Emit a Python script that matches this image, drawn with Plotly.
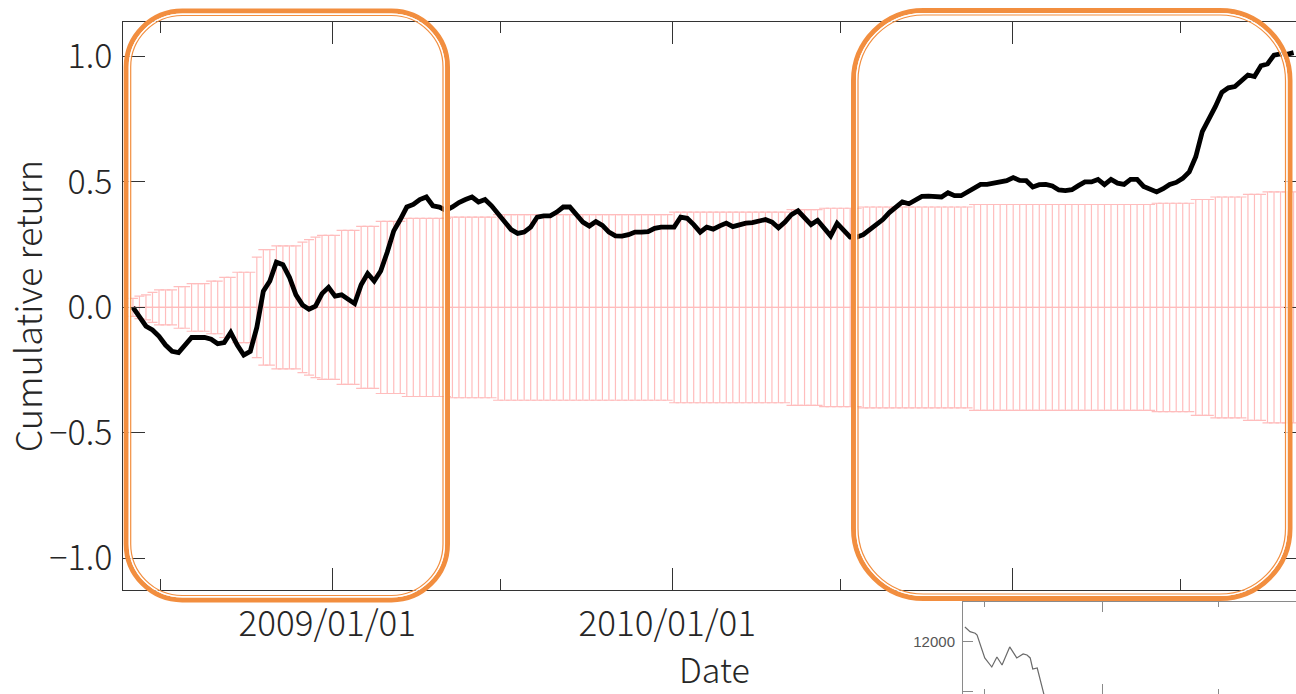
import plotly.graph_objects as go
import pandas as pd

# ---------------- data ----------------
week_start = "2008-06-01"
n_weeks = 179
week_dates = pd.date_range(week_start, periods=n_weeks, freq="7D")

cum_return = [
    0.00, -0.037, -0.075, -0.09, -0.115, -0.15, -0.175, -0.18, -0.15, -0.12,
    -0.12, -0.12, -0.127, -0.145, -0.14, -0.10, -0.15, -0.19, -0.175, -0.08,
    0.065, 0.105, 0.18, 0.17, 0.12, 0.05, 0.01, -0.007, 0.005, 0.055,
    0.08, 0.045, 0.05, 0.03, 0.015, 0.09, 0.135, 0.105, 0.145, 0.22,
    0.305, 0.35, 0.40, 0.41, 0.43, 0.44, 0.405, 0.40, 0.387, 0.40,
    0.418, 0.43, 0.44, 0.42, 0.43, 0.405, 0.375, 0.34, 0.31, 0.295,
    0.30, 0.32, 0.36, 0.365, 0.365, 0.38, 0.40, 0.40, 0.368, 0.34,
    0.324, 0.342, 0.327, 0.30, 0.285, 0.284, 0.29, 0.30, 0.30, 0.302,
    0.315, 0.32, 0.32, 0.32, 0.36, 0.355, 0.33, 0.30, 0.32, 0.312,
    0.325, 0.336, 0.322, 0.33, 0.336, 0.338, 0.342, 0.35, 0.34, 0.317,
    0.34, 0.37, 0.385, 0.36, 0.33, 0.347, 0.315, 0.285, 0.335, 0.31,
    0.28, 0.28, 0.29, 0.31, 0.33, 0.35, 0.378, 0.40, 0.42, 0.413,
    0.425, 0.442, 0.443, 0.44, 0.44, 0.457, 0.445, 0.445, 0.46, 0.48,
    0.49, 0.49, 0.496, 0.50, 0.505, 0.517, 0.506, 0.505, 0.48, 0.489,
    0.49, 0.484, 0.468, 0.465, 0.469, 0.485, 0.50, 0.50, 0.51, 0.489,
    0.51, 0.495, 0.49, 0.51, 0.51, 0.482, 0.47, 0.46, 0.473, 0.49,
    0.498, 0.514, 0.54, 0.60, 0.70, 0.747, 0.80, 0.857, 0.875, 0.88,
    0.902, 0.926, 0.92, 0.963, 0.97, 1.005, 1.01, 1.008, 1.015,
]

# centre of the confidence band (zero return) and its half width
ci_center = [
    0.0, 0.0, 0.0, 0.0, 0.0, 0.0, 0.0, 0.0, 0.0, 0.0,
    0.0, 0.0, 0.0, 0.0, 0.0, 0.0, 0.0, 0.0, 0.0, 0.0,
    0.0, 0.0, 0.0, 0.0, 0.0, 0.0, 0.0, 0.0, 0.0, 0.0,
    0.0, 0.0, 0.0, 0.0, 0.0, 0.0, 0.0, 0.0, 0.0, 0.0,
    0.0, 0.0, 0.0, 0.0, 0.0, 0.0, 0.0, 0.0, 0.0, 0.0,
    0.0, 0.0, 0.0, 0.0, 0.0, 0.0, 0.0, 0.0, 0.0, 0.0,
    0.0, 0.0, 0.0, 0.0, 0.0, 0.0, 0.0, 0.0, 0.0, 0.0,
    0.0, 0.0, 0.0, 0.0, 0.0, 0.0, 0.0, 0.0, 0.0, 0.0,
    0.0, 0.0, 0.0, 0.0, 0.0, 0.0, 0.0, 0.0, 0.0, 0.0,
    0.0, 0.0, 0.0, 0.0, 0.0, 0.0, 0.0, 0.0, 0.0, 0.0,
    0.0, 0.0, 0.0, 0.0, 0.0, 0.0, 0.0, 0.0, 0.0, 0.0,
    0.0, 0.0, 0.0, 0.0, 0.0, 0.0, 0.0, 0.0, 0.0, 0.0,
    0.0, 0.0, 0.0, 0.0, 0.0, 0.0, 0.0, 0.0, 0.0, 0.0,
    0.0, 0.0, 0.0, 0.0, 0.0, 0.0, 0.0, 0.0, 0.0, 0.0,
    0.0, 0.0, 0.0, 0.0, 0.0, 0.0, 0.0, 0.0, 0.0, 0.0,
    0.0, 0.0, 0.0, 0.0, 0.0, 0.0, 0.0, 0.0, 0.0, 0.0,
    0.0, 0.0, 0.0, 0.0, 0.0, 0.0, 0.0, 0.0, 0.0, 0.0,
    0.0, 0.0, 0.0, 0.0, 0.0, 0.0, 0.0, 0.0, 0.0,
]

ci_halfwidth = [
    0.036, 0.045, 0.05, 0.06, 0.07, 0.07, 0.07, 0.083, 0.083, 0.095,
    0.095, 0.095, 0.105, 0.105, 0.12, 0.12, 0.14, 0.14, 0.14, 0.20,
    0.23, 0.23, 0.245, 0.245, 0.245, 0.245, 0.26, 0.27, 0.28, 0.287,
    0.287, 0.287, 0.307, 0.307, 0.307, 0.323, 0.323, 0.323, 0.343, 0.343,
    0.343, 0.343, 0.355, 0.355, 0.355, 0.355, 0.355, 0.355, 0.355, 0.36,
    0.36, 0.36, 0.36, 0.36, 0.36, 0.36, 0.37, 0.37, 0.37, 0.37,
    0.37, 0.37, 0.37, 0.37, 0.37, 0.37, 0.37, 0.37, 0.37, 0.37,
    0.37, 0.37, 0.37, 0.37, 0.37, 0.37, 0.37, 0.37, 0.37, 0.37,
    0.37, 0.37, 0.37, 0.38, 0.38, 0.38, 0.38, 0.38, 0.38, 0.38,
    0.38, 0.38, 0.38, 0.38, 0.38, 0.38, 0.38, 0.38, 0.38, 0.38,
    0.38, 0.39, 0.39, 0.39, 0.39, 0.39, 0.395, 0.395, 0.395, 0.395,
    0.395, 0.395, 0.40, 0.40, 0.40, 0.40, 0.40, 0.40, 0.40, 0.40,
    0.40, 0.40, 0.40, 0.40, 0.40, 0.40, 0.40, 0.40, 0.40, 0.41,
    0.41, 0.41, 0.41, 0.41, 0.41, 0.41, 0.41, 0.41, 0.41, 0.41,
    0.41, 0.41, 0.41, 0.41, 0.41, 0.41, 0.41, 0.41, 0.41, 0.41,
    0.41, 0.41, 0.41, 0.41, 0.41, 0.41, 0.41, 0.415, 0.415, 0.415,
    0.415, 0.415, 0.415, 0.43, 0.43, 0.43, 0.44, 0.44, 0.44, 0.44,
    0.44, 0.45, 0.45, 0.45, 0.46, 0.46, 0.46, 0.46, 0.46,
]

x_major_ticks = ["2009-01-01", "2010-01-01", "2011-01-01"]
x_major_labels = ["2009/01/01", "2010/01/01", ""]
x_minor_ticks = ["2008-07-01", "2009-07-01", "2010-07-01", "2011-07-01"]
y_ticks = [-1.0, -0.5, 0.0, 0.5, 1.0]

# inset (index level)
inset_dates = ["2008-05-31", "2008-06-08", "2008-06-16", "2008-06-19", "2008-07-01",
               "2008-07-12", "2008-07-20", "2008-07-28", "2008-08-09", "2008-08-20",
               "2008-08-30", "2008-09-05", "2008-09-10", "2008-09-14", "2008-09-21",
               "2008-09-25", "2008-09-30", "2008-10-06", "2008-10-14"]
inset_values = [12610, 12420, 12355, 12280, 11350, 10980, 11390, 11060, 11800, 11350,
                11510, 11470, 11350, 10900, 10940, 10450, 9960, 9400, 8800]
inset_y_ticks = [10000, 12000]
inset_x_major = ["2009-01-01"]
inset_x_minor = ["2008-07-01", "2009-07-01"]

# ---------------- style ----------------
W, H = 1306, 694
FONT = "Noto Sans CJK JP"
TXT = "#262626"
AX = "#333333"
PINK = "#ffbdbd"
ORANGE = "#f28e3f"

fig = go.Figure()

fig.add_trace(go.Scatter(
    x=week_dates, y=ci_center, mode="markers",
    marker=dict(symbol="line-ew", size=10, color=PINK, line=dict(color=PINK, width=1.2)),
    error_y=dict(type="data", array=ci_halfwidth, symmetric=True,
                 color=PINK, thickness=1.2, width=5),
    showlegend=False, hoverinfo="skip", xaxis="x", yaxis="y",
))

fig.add_trace(go.Scatter(
    x=week_dates, y=cum_return, mode="lines",
    line=dict(color="black", width=4.8),
    showlegend=False, xaxis="x", yaxis="y",
))

fig.add_trace(go.Scatter(
    x=inset_dates, y=inset_values, mode="lines",
    line=dict(color="#6a6a6a", width=1.2),
    showlegend=False, xaxis="x2", yaxis="y2",
))

fig.update_layout(
    template="none",
    width=W, height=H,
    margin=dict(l=0, r=0, t=0, b=0),
    paper_bgcolor="white", plot_bgcolor="white",
    showlegend=False,
    xaxis=dict(
        domain=[123.3 / W, 1.0], anchor="y", type="date",
        range=["2008-05-21 16:00", "2011-11-12 08:00"],
        tickmode="array", tickvals=x_major_ticks, ticktext=x_major_labels,
        ticks="inside", ticklen=22, tickwidth=1.3, tickcolor=AX,
        minor=dict(tickmode="array", tickvals=x_minor_ticks, ticks="inside",
                   ticklen=11, tickwidth=1.3, tickcolor=AX, showgrid=False),
        showline=True, linecolor=AX, linewidth=1.3, mirror="ticks",
        showgrid=False, zeroline=False, automargin=False,
        tickfont=dict(family=FONT, size=35, color=TXT, weight=300),
        ticklabelstandoff=3, ticklabelshift=-5,
    ),
    yaxis=dict(
        domain=[(H - 590) / H, (H - 22.3) / H], anchor="x",
        range=[-1.126, 1.136],
        tickmode="array", tickvals=y_ticks, tickformat=".1f",
        ticks="inside", ticklen=22, tickwidth=1.3, tickcolor=AX,
        showline=True, linecolor=AX, linewidth=1.3, mirror="ticks",
        showgrid=False, zeroline=False, automargin=False,
        tickfont=dict(family=FONT, size=34, color=TXT, weight=300),
        ticklabelstandoff=3,
        title=dict(text="Cumulative return", font=dict(family=FONT, size=36, color=TXT, weight=300),
                   standoff=20),
    ),
    xaxis2=dict(
        domain=[963 / W, 1.0], anchor="y2", type="date",
        range=["2008-05-28", "2009-11-15"],
        tickmode="array", tickvals=inset_x_major, showticklabels=False,
        ticks="inside", ticklen=10, tickwidth=1, tickcolor="#8a8a8a",
        minor=dict(tickmode="array", tickvals=inset_x_minor, ticks="inside",
                   ticklen=5, tickwidth=1, tickcolor="#8a8a8a", showgrid=False),
        showline=True, linecolor="#8a8a8a", linewidth=1, mirror="ticks",
        showgrid=False, zeroline=False, automargin=False,
    ),
    yaxis2=dict(
        domain=[0.0, (H - 602) / H], anchor="x2",
        range=[9880, 13630],
        tickmode="array", tickvals=inset_y_ticks, tickformat="d",
        ticks="inside", ticklen=10, tickwidth=1, tickcolor="#8a8a8a",
        showline=True, linecolor="#8a8a8a", linewidth=1, mirror="ticks",
        showgrid=False, zeroline=False, automargin=False,
        tickfont=dict(family="Liberation Sans", size=15, color="#555555"),
        ticklabelstandoff=4,
    ),
)

# x-axis title placed as free text (axis titles are clamped inside the figure)
fig.add_annotation(
    text="Date", xref="paper", yref="paper",
    x=(123.3 + 1306) / 2 / W, y=1 - 668.5 / H, xanchor="center", yanchor="middle",
    showarrow=False, borderpad=0, font=dict(family=FONT, size=34, color=TXT, weight=300),
)


# ---------------- highlight boxes (rounded, double orange outline) ----------------
def rounded_path(l, t, r, b, rad):
    k = 0.5523 * rad

    def P(x, y):
        return f"{x / W:.5f},{1 - y / H:.5f}"

    return (f"M {P(l + rad, t)} L {P(r - rad, t)} "
            f"C {P(r - rad + k, t)} {P(r, t + rad - k)} {P(r, t + rad)} "
            f"L {P(r, b - rad)} C {P(r, b - rad + k)} {P(r - rad + k, b)} {P(r - rad, b)} "
            f"L {P(l + rad, b)} C {P(l + rad - k, b)} {P(l, b - rad + k)} {P(l, b - rad)} "
            f"L {P(l, t + rad)} C {P(l, t + rad - k)} {P(l + rad - k, t)} {P(l + rad, t)} Z")


boxes = [(126.2, 11.0, 447.5, 600.0, 56.0), (853.5, 10.5, 1290.0, 598.5, 70.0)]
for (l, t, r, b, rad) in boxes:
    fig.add_shape(type="path", xref="paper", yref="paper",
                  path=rounded_path(l, t, r, b, rad),
                  line=dict(color=ORANGE, width=5), fillcolor="rgba(0,0,0,0)", layer="above")
    o = 3.1
    fig.add_shape(type="path", xref="paper", yref="paper",
                  path=rounded_path(l + o, t + o, r - o, b - o, rad - o),
                  line=dict(color="white", width=1.3), fillcolor="rgba(0,0,0,0)", layer="above")
    o = 4.5
    fig.add_shape(type="path", xref="paper", yref="paper",
                  path=rounded_path(l + o, t + o, r - o, b - o, rad - o),
                  line=dict(color=ORANGE, width=1.2), fillcolor="rgba(0,0,0,0)", layer="above")

post = ("document.documentElement.style.overflow='hidden';"
        "document.body.style.overflow='hidden';"
        "document.body.style.margin='0';")
fig.write_html("out.html", config={"displayModeBar": False}, post_script=post)
